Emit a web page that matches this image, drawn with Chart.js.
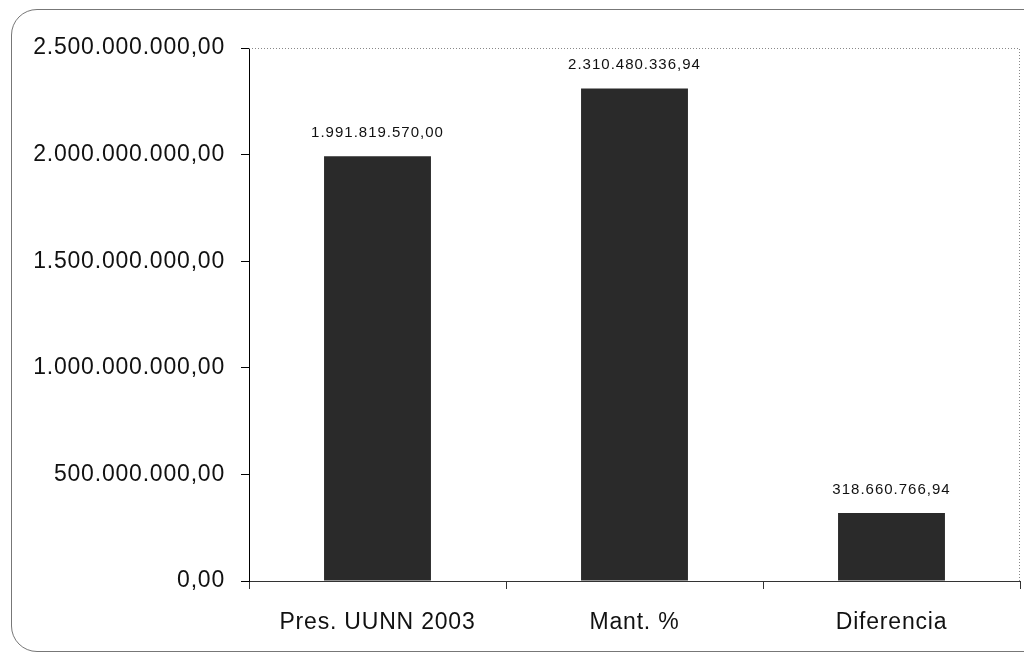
<!DOCTYPE html>
<html>
<head>
<meta charset="utf-8">
<script src="https://cdn.jsdelivr.net/npm/chart.js@4.4.0/dist/chart.umd.min.js"></script>
<style>
  html, body { margin: 0; padding: 0; background: #fff; overflow: hidden; }
  #wrap { position: relative; width: 1024px; height: 653px; }
  #frame {
    position: absolute; left: 11px; top: 9px; width: 1100px; height: 643px;
    border: 1.5px solid #777; border-radius: 26px; box-sizing: border-box;
  }
  canvas { position: absolute; left: 0; top: 0; }
</style>
</head>
<body>
<div id="wrap">
  <div id="frame"></div>
  <canvas id="chart" width="1024" height="653"></canvas>
</div>
<script>
const categories = ["Pres. UUNN 2003", "Mant. %", "Diferencia"];
const values = [1991819570.00, 2310480336.94, 318660766.94];
const yTickValues = [0, 500000000, 1000000000, 1500000000, 2000000000, 2500000000];

// formato español: 2.500.000.000,00
function fmt(v) {
  const parts = Math.abs(v).toFixed(2).split(".");
  const ent = parts[0].replace(/\B(?=(\d{3})+(?!\d))/g, ".");
  return (v < 0 ? "-" : "") + ent + "," + parts[1];
}

const spacing = {
  id: "spacing",
  beforeDraw(chart) {
    chart.ctx.letterSpacing = "0.8px";
  }
};

const plotFrame = {
  id: "plotFrame",
  afterDraw(chart) {
    const { ctx, chartArea: a } = chart;
    ctx.save();
    ctx.strokeStyle = "#888";
    ctx.lineWidth = 1;
    ctx.setLineDash([1, 2]);
    ctx.beginPath();
    ctx.moveTo(a.left, a.top + 0.5);
    ctx.lineTo(a.right - 0.5, a.top + 0.5);
    ctx.lineTo(a.right - 0.5, a.bottom);
    ctx.stroke();
    ctx.restore();
  }
};

const barLabels = {
  id: "barLabels",
  afterDatasetsDraw(chart) {
    const ctx = chart.ctx;
    const meta = chart.getDatasetMeta(0);
    ctx.save();
    ctx.fillStyle = "#111";
    ctx.letterSpacing = "1px";
    ctx.font = "15px 'Liberation Sans Narrow', 'Liberation Sans', Arial, sans-serif";
    ctx.textAlign = "center";
    ctx.textBaseline = "bottom";
    meta.data.forEach((bar, i) => {
      ctx.fillText(fmt(values[i]), bar.x, bar.y - 16);
    });
    ctx.restore();
  }
};

new Chart(document.getElementById("chart"), {
  type: "bar",
  data: {
    labels: categories,
    datasets: [{
      data: values,
      backgroundColor: "#2a2a2a",
      borderWidth: 0,
      categoryPercentage: 1,
      barPercentage: 0.416,
    }],
  },
  options: {
    responsive: false,
    animation: false,
    layout: { padding: { top: 48, right: 4, left: 0, bottom: 0 } },
    plugins: { legend: { display: false }, tooltip: { enabled: false } },
    scales: {
      x: {
        grid: { offset: true, drawOnChartArea: false, tickLength: 8, color: "#333" },
        border: { display: true, color: "#333", width: 1 },
        ticks: {
          color: "#111", padding: 20,
          font: { family: "'Liberation Sans', Arial, sans-serif", size: 23 },
        },
        afterFit(scale) { scale.height = 72; },
      },
      y: {
        min: 0,
        max: 2500000000,
        afterBuildTicks(scale) { scale.ticks = yTickValues.map(v => ({ value: v })); },
        grid: { drawOnChartArea: false, tickLength: 8, color: "#000" },
        border: { display: true, color: "#000", width: 1 },
        ticks: {
          color: "#111", padding: 16,
          font: { family: "'Liberation Sans', Arial, sans-serif", size: 23 },
          callback: (v) => fmt(v),
        },
        afterFit(scale) { scale.width = 249; },
      },
    },
  },
  plugins: [spacing, plotFrame, barLabels],
});
</script>
</body>
</html>
